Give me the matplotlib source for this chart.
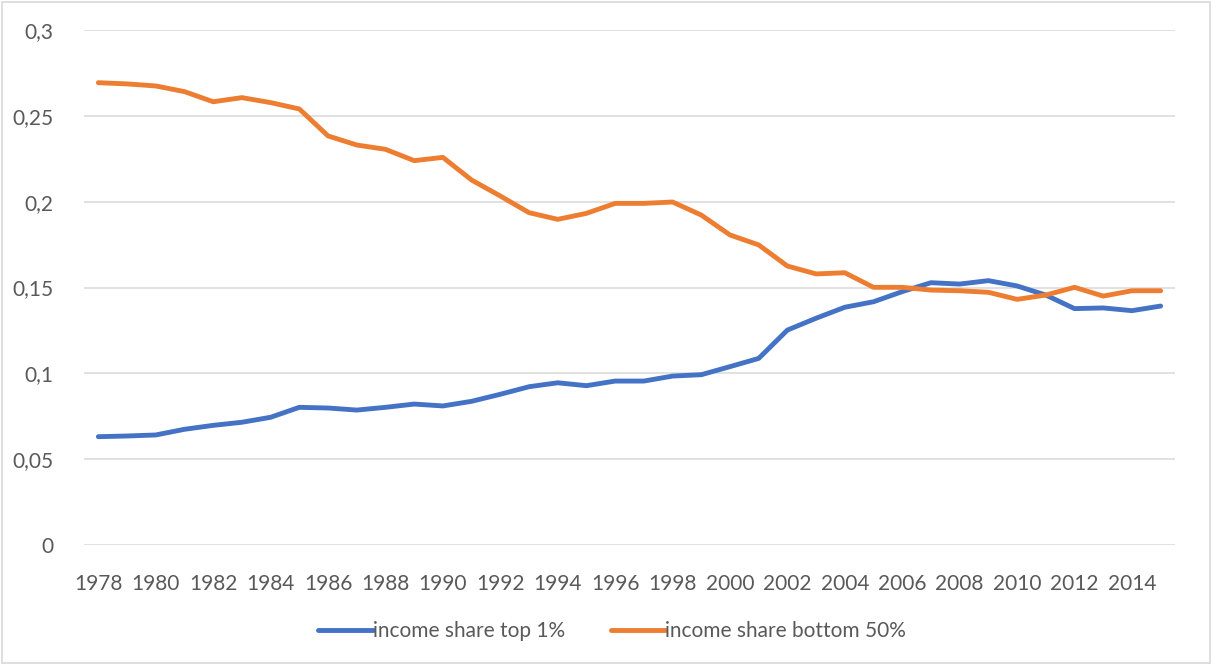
import matplotlib
matplotlib.use("Agg")
import matplotlib.pyplot as plt
from matplotlib.patches import FancyBboxPatch

years = list(range(1978, 2016))

top1 = [0.0631, 0.0635, 0.0641, 0.0674, 0.0697, 0.0715, 0.0744, 0.0802,
        0.0798, 0.0786, 0.0802, 0.0821, 0.0810, 0.0837, 0.0878, 0.0922,
        0.0945, 0.0928, 0.0955, 0.0955, 0.0984, 0.0992, 0.1039, 0.1087,
        0.1252, 0.1321, 0.1385, 0.1417, 0.1476, 0.1528, 0.1520, 0.1540,
        0.1509, 0.1456, 0.1377, 0.1381, 0.1365, 0.1392]

bottom50 = [0.2693, 0.2686, 0.2674, 0.2641, 0.2582, 0.2606, 0.2577, 0.2540,
            0.2383, 0.2330, 0.2305, 0.2239, 0.2258, 0.2126, 0.2033, 0.1936,
            0.1897, 0.1932, 0.1990, 0.1990, 0.1998, 0.1922, 0.1806, 0.1748,
            0.1625, 0.1579, 0.1586, 0.1501, 0.1501, 0.1485, 0.1481, 0.1472,
            0.1431, 0.1456, 0.1501, 0.1450, 0.1481, 0.1481]

y_ticks = [0, 0.05, 0.1, 0.15, 0.2, 0.25, 0.3]
y_tick_labels = ["0", "0,05", "0,1", "0,15", "0,2", "0,25", "0,3"]
x_ticks = list(range(1978, 2016, 2))

series_labels = ["income share top 1%", "income share bottom 50%"]
colors = ["#4472C4", "#ED7D31"]
text_color = "#595959"
grid_color = "#D9D9D9"

plt.rcParams["font.family"] = ["Lato", "DejaVu Sans"]

W, H = 1212, 665
fig = plt.figure(figsize=(W / 100, H / 100), dpi=100)

# chart border
fig.patches.append(FancyBboxPatch((2 / W, 2 / H), 1 - 4 / W, 1 - 4 / H,
                                  boxstyle="square,pad=0", transform=fig.transFigure,
                                  fill=False, edgecolor=grid_color, linewidth=1.2))

ax = fig.add_axes([84 / W, (H - 545) / H, (1175 - 84) / W, (545 - 30) / H])

for vals, lab, col in zip([top1, bottom50], series_labels, colors):
    ax.plot(years, vals, color=col, linewidth=3.5, label=lab,
            solid_capstyle="round", solid_joinstyle="round", zorder=3)

ax.set_xlim(1977.5, 2015.5)
ax.set_ylim(0, 0.3)
ax.set_yticks(y_ticks)
ax.set_yticklabels(y_tick_labels)
ax.set_xticks(x_ticks)
ax.set_xticklabels([str(x) for x in x_ticks])
ax.grid(axis="y", color=grid_color, linewidth=1.1, zorder=0)
ax.tick_params(axis="both", length=0, labelsize=15, colors=text_color)
ax.tick_params(axis="y", pad=22)
ax.tick_params(axis="x", pad=21)
for s in ax.spines.values():
    s.set_visible(False)

fig.legend(loc="center", bbox_to_anchor=(612 / W, 1 - 631 / H), ncol=2,
           frameon=False, fontsize=15, labelcolor=text_color,
           handlelength=2.6, handletextpad=0.0, columnspacing=2.2)

fig.savefig("out.png", dpi=100, facecolor="white")
